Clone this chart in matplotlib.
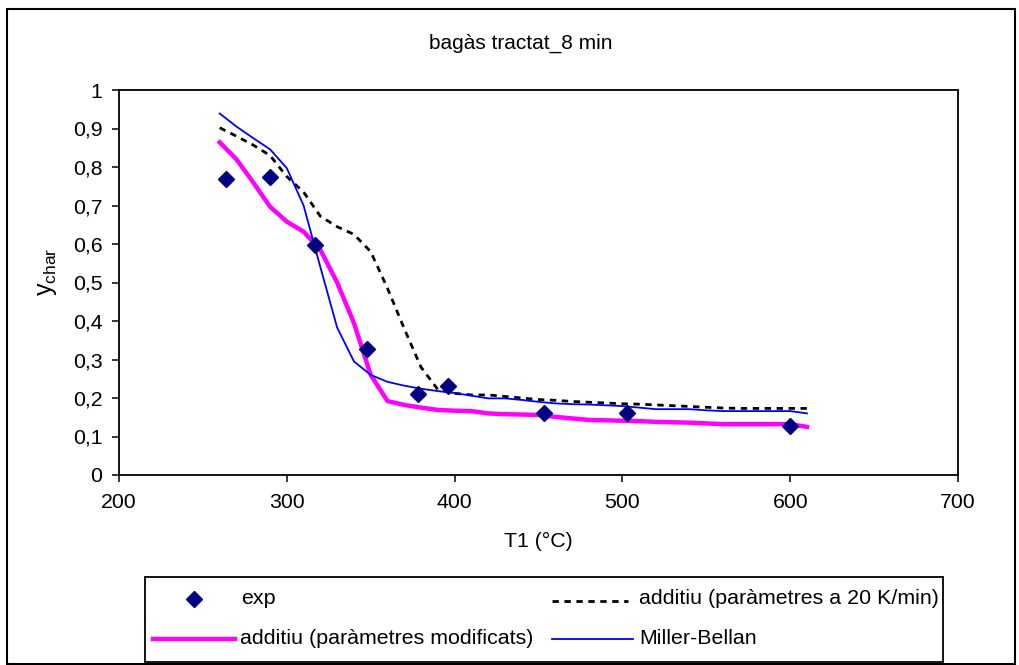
import matplotlib
matplotlib.use('Agg')
import matplotlib.pyplot as plt
from matplotlib.lines import Line2D
from matplotlib.patches import Rectangle
from matplotlib.ticker import FuncFormatter

plt.rcParams['font.family'] = ['Liberation Sans', 'DejaVu Sans']
plt.rcParams['mathtext.fontset'] = 'custom'
plt.rcParams['mathtext.rm'] = 'Liberation Sans'

# experimental points
t_exp = [264, 290, 317, 348, 378, 396, 453, 503, 600]
y_exp = [0.77, 0.775, 0.597, 0.327, 0.21, 0.232, 0.16, 0.16, 0.127]

# model curves, every 10 C from 260 to 610
t_mod = list(range(260, 620, 10))
y_add20 = [0.902, 0.88, 0.857, 0.83, 0.775, 0.735, 0.672, 0.645, 0.625, 0.58,
           0.485, 0.38, 0.28, 0.222, 0.212, 0.208, 0.208, 0.204, 0.2, 0.196,
           0.194, 0.191, 0.189, 0.187, 0.185, 0.184, 0.182, 0.18, 0.178, 0.176,
           0.174, 0.173, 0.173, 0.173, 0.173, 0.173]
y_addmod = [0.864, 0.82, 0.76, 0.697, 0.658, 0.632, 0.585, 0.5, 0.395, 0.26,
            0.192, 0.182, 0.175, 0.169, 0.167, 0.166, 0.16, 0.158, 0.157, 0.156,
            0.151, 0.147, 0.143, 0.142, 0.141, 0.14, 0.138, 0.137, 0.136, 0.134,
            0.132, 0.132, 0.132, 0.132, 0.132, 0.125]
y_miller = [0.939, 0.905, 0.875, 0.846, 0.797, 0.7, 0.54, 0.383, 0.295, 0.26,
            0.242, 0.232, 0.224, 0.218, 0.213, 0.206, 0.199, 0.199, 0.195, 0.19,
            0.186, 0.184, 0.183, 0.181, 0.179, 0.175, 0.171, 0.171, 0.171, 0.168,
            0.166, 0.166, 0.166, 0.166, 0.166, 0.16]

W, H = 1019, 665
fig = plt.figure(figsize=(W / 100, H / 100), dpi=100)


def px(x, y):
    # pixel position (from top-left) -> figure fraction
    return x / W, 1 - y / H


ax = fig.add_axes([119 / W, 1 - 475 / H, (958 - 119) / W, (475 - 90) / H])

dot_style = (0, (2.3, 2.0))
ax.plot(t_mod, y_add20, color='black', lw=2.0, linestyle=dot_style, zorder=2)
ax.plot(t_mod, y_addmod, color='#FF00FF', lw=3.2, zorder=3)
ax.plot(t_mod, y_miller, color='#0000FF', lw=1.3, zorder=4)
ax.plot(t_exp, y_exp, linestyle='none', marker='D', ms=7.8,
        color='#000080', zorder=5)

ax.set_xlim(200, 700)
ax.set_ylim(0, 1)
ax.set_xticks(range(200, 800, 100))
ax.set_yticks([i / 10 for i in range(11)])
ax.yaxis.set_major_formatter(FuncFormatter(
    lambda v, p: '0' if v == 0 else ('1' if v == 1 else ('%.1f' % v).replace('.', ','))))
ax.tick_params(axis='both', direction='out', length=5, width=1.1, labelsize=15.3)
ax.tick_params(axis='y', pad=7)
ax.tick_params(axis='x', pad=8)
for s in ax.spines.values():
    s.set_linewidth(1.3)

# title and axis labels
fig.text(*px(521, 43), 'bagàs tractat_8 min', fontsize=15, ha='center', va='center')
fig.text(*px(538, 541), 'T1 (°C)', fontsize=15.3, ha='center', va='center')
fig.text(*px(47, 272), r'$\mathrm{y}_{\mathrm{char}}$', fontsize=18,
         rotation=90, ha='center', va='center')

# outer chart border
x0, y0 = px(7, 664)
x1, y1 = px(1015, 9)
fig.add_artist(Rectangle((x0, y0), x1 - x0, y1 - y0, transform=fig.transFigure,
                         fill=False, edgecolor='black', lw=1.5))

# legend box
lx0, ly0 = px(145, 662)
lx1, ly1 = px(943, 577)
fig.add_artist(Rectangle((lx0, ly0), lx1 - lx0, ly1 - ly0, transform=fig.transFigure,
                         fill=False, edgecolor='black', lw=1.3))

tf = fig.transFigure
a, b = px(194, 599)
fig.add_artist(Line2D([a], [b], marker='D', ms=7.8, color='#000080',
                      linestyle='none', transform=tf))
fig.text(*px(241, 599), 'exp', fontsize=15.4, ha='left', va='center')

a1, b1 = px(552, 601)
a2, _ = px(628, 601)
fig.add_artist(Line2D([a1, a2], [b1, b1], color='black', lw=2.0,
                      linestyle=dot_style, transform=tf))
fig.text(*px(639, 599), 'additiu (paràmetres a 20 K/min)', fontsize=15.4,
         ha='left', va='center')

a1, b1 = px(153, 639)
a2, _ = px(235, 639)
fig.add_artist(Line2D([a1, a2], [b1, b1], color='#FF00FF', lw=3.2, transform=tf))
fig.text(*px(240, 638), 'additiu (paràmetres modificats)', fontsize=15.4,
         ha='left', va='center')

a1, b1 = px(552, 639)
a2, _ = px(633, 639)
fig.add_artist(Line2D([a1, a2], [b1, b1], color='#0000FF', lw=1.3, transform=tf))
fig.text(*px(639, 638), 'Miller-Bellan', fontsize=15.4, ha='left', va='center')

fig.savefig('out.png', dpi=100)
